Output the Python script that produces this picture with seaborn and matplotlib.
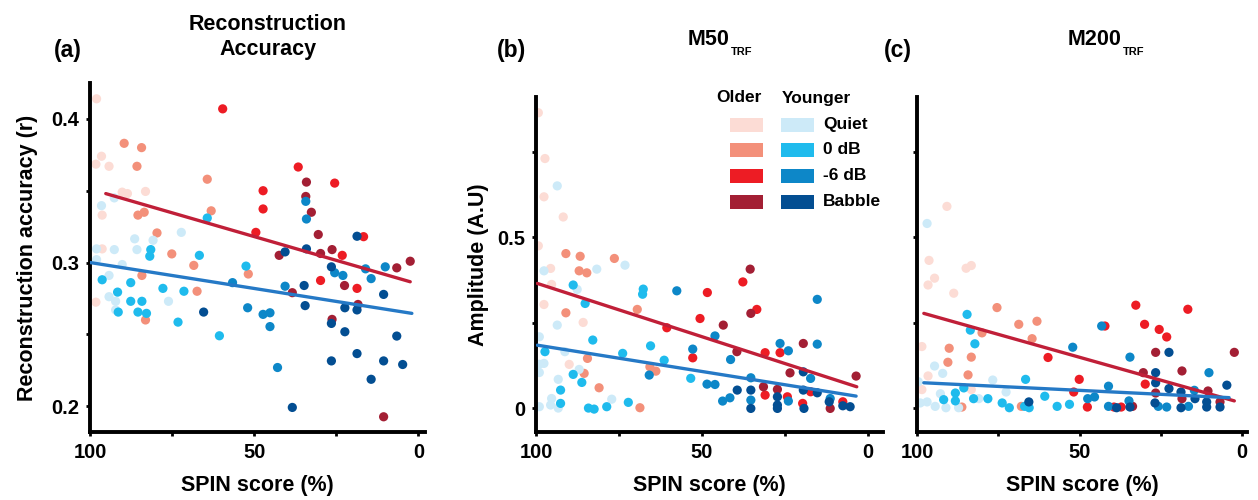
import pandas as pd
import matplotlib.pyplot as plt
import seaborn as sns
from matplotlib.patches import Rectangle

# (SPIN score %, value), one list per panel / age group / condition
a_old_quiet = [(98, 0.414), (96.5, 0.374), (98.2, 0.3685), (94.2, 0.367), (90.2, 0.349), (88.6, 0.348),
               (83.1, 0.3495), (96.3, 0.333), (96.3, 0.3095), (98.2, 0.2724)]
a_old_0db = [(89.6, 0.383), (85.7, 0.367), (64.3, 0.358), (85.4, 0.333), (83.5, 0.335), (79.6, 0.3206),
             (75.1, 0.306), (68.4, 0.298), (84.2, 0.291), (67.4, 0.280), (83.1, 0.260), (63.1, 0.336),
             (51.8, 0.292), (84.3, 0.380)]
a_old_6db = [(59.6, 0.407), (49.5, 0.321), (36.6, 0.3665), (47.3, 0.350), (47.3, 0.3373), (25.5, 0.3553),
             (23.2, 0.305), (29.8, 0.2875), (18.7, 0.282), (16.7, 0.318)]
a_old_babble = [(34.1, 0.356), (34.3, 0.346), (32.6, 0.335), (30.5, 0.3195), (42.4, 0.305), (26.3, 0.309),
                (29.8, 0.3063), (22.5, 0.284), (38.4, 0.279), (18.4, 0.2708), (26.3, 0.2604), (6.6, 0.2963),
                (2.5, 0.3009), (10.6, 0.1926)]
a_young_quiet = [(96.5, 0.3396), (92.6, 0.345), (98, 0.3095), (92.6, 0.309), (86.4, 0.3165), (85.7, 0.309),
                 (80.8, 0.3155), (72.2, 0.321), (98, 0.302), (90.2, 0.2986), (94.2, 0.291), (94.2, 0.2762),
                 (92.2, 0.273), (92.2, 0.267), (76.1, 0.273)]
a_young_0db = [(96.3, 0.288), (91.6, 0.2794), (91.4, 0.2655), (87.6, 0.286), (87.6, 0.273), (84.2, 0.273),
               (85.4, 0.2655), (82.8, 0.2646), (81.5, 0.309), (81.8, 0.3044), (77.8, 0.282), (71.4, 0.280),
               (73.2, 0.2585), (66.7, 0.305), (60.6, 0.249), (64.3, 0.331), (52.5, 0.2975)]
a_young_6db = [(56.6, 0.286), (52, 0.2685), (34.3, 0.3426), (34.1, 0.3303), (40.6, 0.2835), (47.3, 0.2639),
               (45.2, 0.265), (45.2, 0.2554), (42.9, 0.2269), (25.5, 0.2929), (23, 0.291), (16.1, 0.2956),
               (14.4, 0.2888), (10.1, 0.297)]
a_young_babble = [(65.4, 0.2655), (18.7, 0.3183), (40.6, 0.3074), (34.1, 0.3095), (26.5, 0.297), (34.8, 0.284),
                  (34.5, 0.270), (22.4, 0.2685), (18.7, 0.267), (26.5, 0.2576), (22.4, 0.2518), (10.6, 0.2778),
                  (6.6, 0.2488), (18.7, 0.2366), (26.5, 0.2315), (10.6, 0.2315), (4.8, 0.229), (14.4, 0.2187),
                  (38.4, 0.1991)]

b_old_quiet = [(99.3, 0.864), (97.3, 0.730), (97.6, 0.618), (91.8, 0.559), (99.3, 0.4746), (95.6, 0.4085),
               (95.3, 0.3617), (97.6, 0.303), (85.8, 0.2505), (90, 0.1278)]
b_old_0db = [(91, 0.452), (86.7, 0.444), (87, 0.4015), (84.7, 0.3956), (76.4, 0.4377), (91, 0.2787),
             (69.5, 0.2886), (84.5, 0.1453), (85.5, 0.1015), (81, 0.0594), (65.7, 0.1208), (63.9, 0.108),
             (68.7, 0.001)]
b_old_6db = [(60.6, 0.235), (50.6, 0.262), (52.8, 0.147), (48.4, 0.338), (37.7, 0.369), (33.5, 0.2886),
             (31, 0.162), (26.5, 0.162), (31, 0.038), (24.3, 0.033), (19.7, 0.0137), (17.3, 0.0477), (7.6, 0.0184)]
b_old_babble = [(35.5, 0.4064), (35.3, 0.277), (43.6, 0.2427), (39.5, 0.165), (19.5, 0.189), (23.5, 0.103),
                (31.5, 0.0623), (27.3, 0.0547), (11.4, -0.001), (3.6, 0.0936)]
b_young_quiet = [(93.6, 0.650), (97.6, 0.4015), (81.7, 0.4064), (73.2, 0.418), (87.6, 0.347), (93.6, 0.2427),
                 (99, 0.2085), (97.6, 0.1307), (99, 0.128), (99, 0.104), (91.3, 0.165), (87, 0.113),
                 (93.3, 0.084), (95.3, 0.028), (99, 0.004), (95.6, 0.009), (93.3, 0.0), (77.2, 0.026)]
b_young_0db = [(88.8, 0.36), (85.2, 0.306), (67.7, 0.348), (67.9, 0.333), (82.9, 0.199), (97.3, 0.165),
               (73.9, 0.160), (65.5, 0.182), (61.4, 0.140), (88.8, 0.0985), (86.2, 0.075), (92.6, 0.0526),
               (92.6, 0.0137), (84.2, 0.0), (82.5, -0.003), (78.7, 0.004), (72.2, 0.0167), (53.4, 0.087)]
b_young_6db = [(57.6, 0.343), (52.8, 0.1725), (65.9, 0.0965), (48.5, 0.070), (15.3, 0.318), (46.1, 0.211),
               (26.5, 0.189), (24, 0.1676), (15.3, 0.187), (41.4, 0.142), (35.3, 0.0886), (17.3, 0.0868),
               (46.1, 0.069), (43.8, 0.0205), (41.6, 0.030), (35.3, 0.0234), (24, 0.0205), (11.4, 0.028)]
b_young_babble = [(39.4, 0.0526), (35.3, 0.0526), (35.3, -0.001), (27.3, 0.033), (27.3, -0.001), (19.5, 0.0526),
                  (15.3, 0.0447), (19.3, -0.001), (19.5, 0.106), (11.7, 0.0184), (7.6, 0.0067), (5.4, 0.004),
                  (27.3, 0.0088)]

c_old_quiet = [(90.8, 0.590), (96.3, 0.432), (94.6, 0.380), (96.6, 0.360), (84.9, 0.409), (83.3, 0.417),
               (88.7, 0.336), (98.5, 0.180), (96.6, 0.094), (98.5, 0.054), (83.3, 0.054)]
c_old_0db = [(75.4, 0.294), (68.7, 0.245), (63.1, 0.254), (64.6, 0.203), (80, 0.220), (90.1, 0.175),
             (90.5, 0.134), (83.3, 0.149), (84.3, 0.097), (86.2, 0.003), (67.9, 0.005)]
c_old_6db = [(59.7, 0.148), (50.1, 0.084), (51.8, 0.047), (32.7, 0.301), (16.7, 0.289), (30, 0.245),
             (25.5, 0.230), (23.2, 0.208), (29.8, 0.070), (47.6, 0.003), (37.2, 0.003), (39.4, 0.003),
             (42.2, 0.240)]
c_old_babble = [(26.6, 0.163), (2.4, 0.163), (30.4, 0.1036), (18.5, 0.1086), (10.5, 0.050), (18.5, 0.0275),
                (33.7, 0.005), (26.6, 0.044), (6.8, 0.018)]
c_young_quiet = [(96.9, 0.540), (94.6, 0.123), (92.1, 0.1015), (92.8, 0.042), (99, 0.015), (96.9, 0.018),
                 (94.4, 0.005), (91.1, 0.001), (87.2, 0.001), (76.7, 0.082), (81, 0.0275), (72.6, 0.047),
                 (99.6, 0.077)]
c_young_0db = [(84.6, 0.274), (83.6, 0.228), (82.2, 0.188), (85.6, 0.059), (88.2, 0.044), (88.2, 0.021),
               (82.6, 0.0275), (78.2, 0.0275), (91.8, 0.0246), (73.8, 0.015), (71.6, 0.001), (66.6, 0.084),
               (60.7, 0.0346), (65.5, 0.001), (66.9, 0.005), (53.1, 0.011), (56.9, 0.005)]
c_young_6db = [(52.1, 0.178), (43.2, 0.240), (34.5, 0.149), (41.1, 0.064), (10.2, 0.1036), (45.4, 0.0325),
               (47.5, 0.0275), (41.1, 0.005), (34.8, 0.021), (25.8, 0.005), (23.2, 0.003), (14.7, 0.052),
               (16.5, 0.005)]
c_young_babble = [(65.6, 0.018), (22.5, 0.163), (26.6, 0.1036), (26.6, 0.074), (22.5, 0.057), (18.8, 0.047),
                  (14.5, 0.0275), (10.9, 0.018), (10.9, 0.003), (4.7, 0.067), (6.8, 0.003), (26.8, 0.015),
                  (18.8, 0.001), (34.5, 0.003), (38.6, 0.001)]

# regression lines as drawn in the figure (start / end)
a_fit_old = [(95.2, 0.348), (2.5, 0.2866)]
a_fit_young = [(100, 0.300), (2, 0.2646)]
b_fit_old = [(99.6, 0.3646), (3.4, 0.0623)]
b_fit_young = [(99.6, 0.184), (3.6, 0.035)]
c_fit_old = [(97.9, 0.277), (2.4, 0.021)]
c_fit_young = [(97.9, 0.074), (4, 0.0305)]

conditions = ['Quiet', '0 dB', '-6 dB', 'Babble']
older_colors = ['#fcdcd5', '#f3907a', '#ed1c24', '#a31f34']
younger_colors = ['#cdeaf8', '#1fbbed', '#0d87c8', '#034e92']
fit_colors = {'Older': '#c01f38', 'Younger': '#2579c6'}

panels = {
    'a': [a_old_quiet, a_old_0db, a_old_6db, a_old_babble,
          a_young_quiet, a_young_0db, a_young_6db, a_young_babble],
    'b': [b_old_quiet, b_old_0db, b_old_6db, b_old_babble,
          b_young_quiet, b_young_0db, b_young_6db, b_young_babble],
    'c': [c_old_quiet, c_old_0db, c_old_6db, c_old_babble,
          c_young_quiet, c_young_0db, c_young_6db, c_young_babble],
}
fits = {'a': (a_fit_old, a_fit_young), 'b': (b_fit_old, b_fit_young), 'c': (c_fit_old, c_fit_young)}

rows = []
for panel, groups in panels.items():
    for i, pts in enumerate(groups):
        age = 'Older' if i < 4 else 'Younger'
        for score, val in pts:
            rows.append({'panel': panel, 'group': age + ' ' + conditions[i % 4], 'score': score, 'value': val})
df = pd.DataFrame(rows)

palette = {}
for i, cond in enumerate(conditions):
    palette['Older ' + cond] = older_colors[i]
    palette['Younger ' + cond] = younger_colors[i]

sns.set_theme(style='ticks')
plt.rcParams['font.family'] = ['Liberation Sans', 'DejaVu Sans']
plt.rcParams['font.weight'] = 'bold'
plt.rcParams['axes.labelweight'] = 'bold'
for key in ['text.color', 'axes.labelcolor', 'xtick.color', 'ytick.color']:
    plt.rcParams[key] = 'black'

W, H = 1258, 500
fig = plt.figure(figsize=(W / 100, H / 100), dpi=100)


def fx(px):
    return px / W


def fy(py):
    return 1 - py / H


boxes = {'a': (90, 83, 425, 432), 'b': (536, 97, 883, 432), 'c': (917, 97, 1247, 432)}
xlims = {'a': (100, -2), 'b': (100, -4.5), 'c': (100, -1.5)}
ylims = {'a': (0.182, 0.425), 'b': (-0.07, 0.91), 'c': (-0.07, 0.91)}

for panel, (x0, y0, x1, y1) in boxes.items():
    ax = fig.add_axes([fx(x0), fy(y1), (x1 - x0) / W, (y1 - y0) / H])
    sub = df[df['panel'] == panel]
    sns.scatterplot(data=sub, x='score', y='value', hue='group', palette=palette,
                    s=44, linewidth=0, legend=False, ax=ax, zorder=2)
    for age, line in zip(['Older', 'Younger'], fits[panel]):
        ldf = pd.DataFrame(line, columns=['score', 'value'])
        sns.lineplot(data=ldf, x='score', y='value', color=fit_colors[age], lw=2.4, ax=ax, zorder=3)

    ax.set_xlim(*xlims[panel])
    ax.set_ylim(*ylims[panel])
    ax.set_xticks([100, 75, 50, 25, 0])
    ax.set_xticklabels(['100', '', '50', '', '0'])
    if panel == 'a':
        ax.set_yticks([0.2, 0.25, 0.3, 0.35, 0.4])
        ax.set_yticklabels(['0.2', '', '0.3', '', '0.4'])
        ax.set_ylabel('Reconstruction accuracy (r)', fontsize=15.5, labelpad=9)
    else:
        ax.set_yticks([0, 0.25, 0.5, 0.75])
        if panel == 'b':
            ax.set_yticklabels(['0', '', '0.5', ''])
            ax.set_ylabel('Amplitude (A.U)', fontsize=15.5, labelpad=6)
        else:
            ax.set_yticklabels(['', '', '', ''])
            ax.set_ylabel('')
    ax.set_xlabel('SPIN score (%)', fontsize=15.5, labelpad=9)
    ax.tick_params(axis='both', labelsize=14.5, length=3, width=2, color='black', pad=5)
    sns.despine(ax=ax)
    for side in ['left', 'bottom']:
        ax.spines[side].set_linewidth(2.8)
        ax.spines[side].set_color('black')

# titles and panel letters
fig.text(fx(268), fy(37), 'Reconstruction\nAccuracy', ha='center', va='center', fontsize=15.5)
for name, cx in [('M50', 709), ('M200', 1095)]:
    t = fig.text(fx(cx), fy(45), name, ha='center', va='baseline', fontsize=15.5)
    plt.annotate('TRF', xy=(1.0, 0.12), xycoords=t, xytext=(1, 0), textcoords='offset points',
                 fontsize=8, ha='left', va='top')
for letter, px in [('(a)', 68), ('(b)', 512), ('(c)', 898)]:
    fig.text(fx(px), fy(51), letter, ha='center', va='center', fontsize=16.5)

# two-column legend inside panel (b)
fig.text(fx(739), fy(98), 'Older', ha='center', va='center', fontsize=12.5)
fig.text(fx(816), fy(98), 'Younger', ha='center', va='center', fontsize=12.5)
for i, cy in enumerate([125, 150, 176, 202]):
    for left, col in [(730, older_colors[i]), (781, younger_colors[i])]:
        fig.add_artist(Rectangle((fx(left), fy(cy + 7)), 33 / W, 14 / H, transform=fig.transFigure,
                                 facecolor=col, edgecolor='none'))
    fig.text(fx(823), fy(cy), conditions[i], ha='left', va='center', fontsize=12.5)

fig.savefig('out.png', dpi=100)
